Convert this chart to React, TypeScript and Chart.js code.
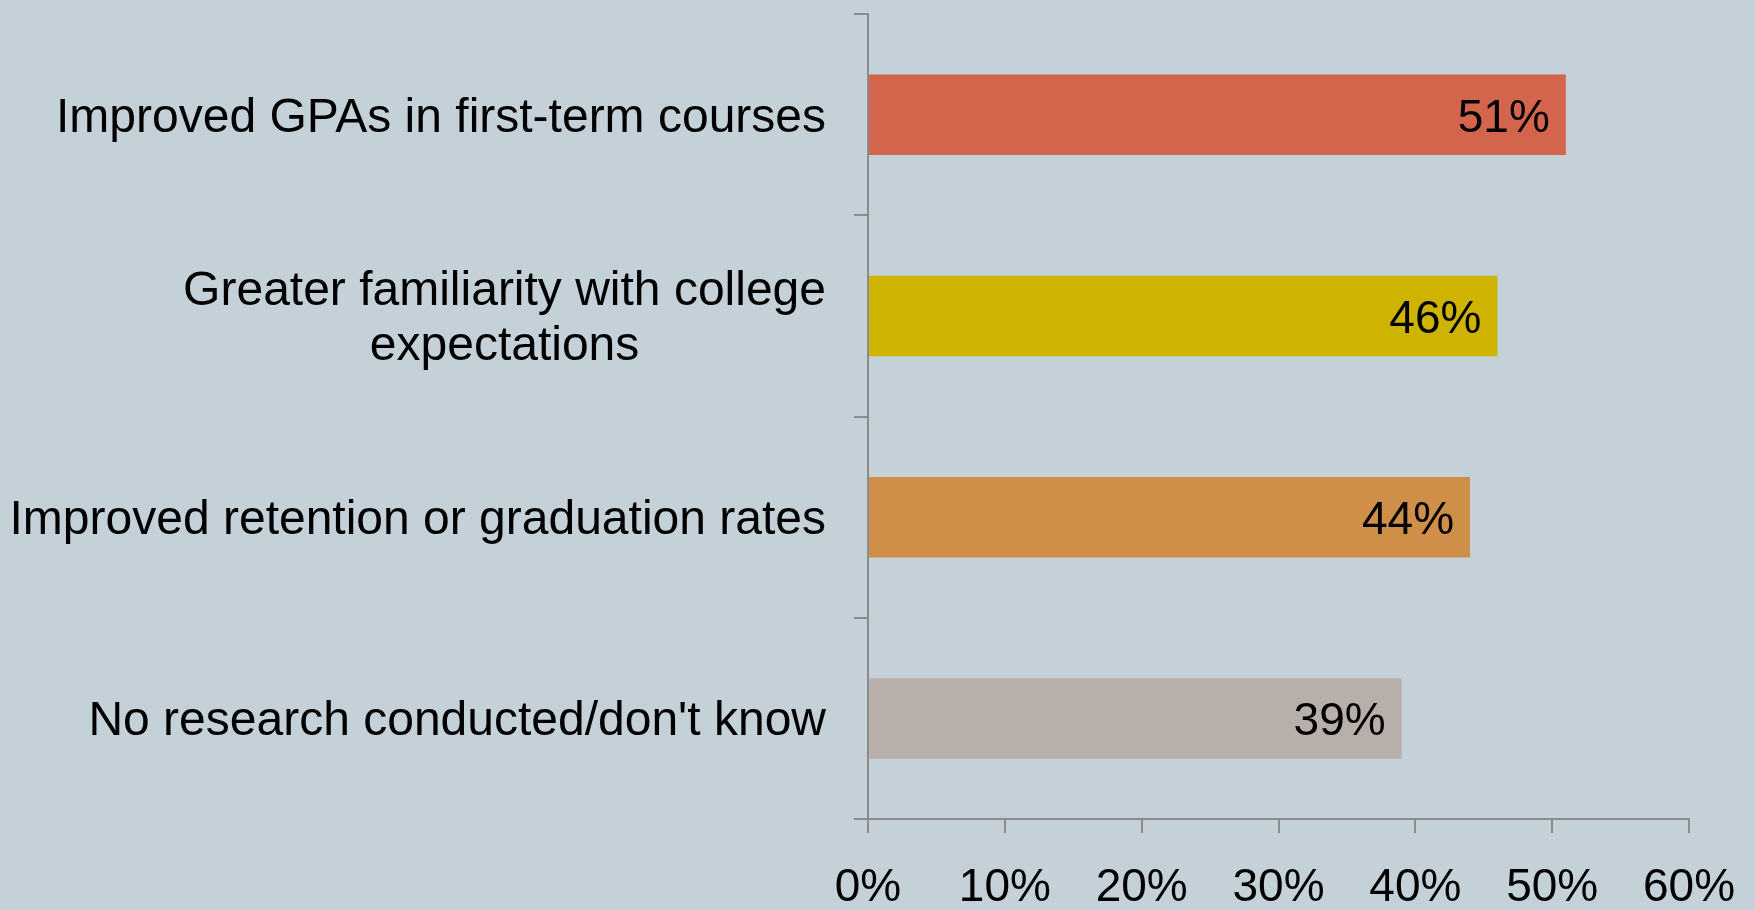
import React, { useEffect, useRef } from "react";
import { Chart, registerables } from "chart.js";

Chart.register(...registerables);

const categories: string[][] = [
  ["Improved GPAs in first-term courses"],
  ["Greater familiarity with college", "expectations"],
  ["Improved retention or graduation rates"],
  ["No research conducted/don't know"],
];
const values: number[] = [51, 46, 44, 39];
const barColors: string[] = ["#D2654B", "#CEB400", "#D08F48", "#B9AFAA"];
const axisMin = 0;
const axisMax = 60;
const axisStep = 10;

const FONT = "'Liberation Sans', Arial, sans-serif";
const GRAY = "#8C8C8C";
const BG = "#C5D1D8";

const labelPlugin = {
  id: "customLabels",
  afterDraw(chart: any) {
    const ctx = chart.ctx;
    const yScale = chart.scales.y;
    ctx.save();
    ctx.fillStyle = "#000";
    // category labels
    ctx.font = `48px ${FONT}`;
    ctx.textBaseline = "alphabetic";
    ctx.textAlign = "center";
    const rightEdge = 826;
    const lineH = 55;
    categories.forEach((lines, i) => {
      const cy = yScale.getPixelForTick(i);
      const widest = Math.max(...lines.map((l) => ctx.measureText(l).width));
      const cx = rightEdge - widest / 2;
      const startBase = cy - ((lines.length - 1) * lineH) / 2 + 17;
      lines.forEach((l, j) => {
        ctx.fillText(l, cx, startBase + j * lineH);
      });
    });
    // value labels
    ctx.font = `46px ${FONT}`;
    ctx.textAlign = "right";
    const meta = chart.getDatasetMeta(0);
    meta.data.forEach((bar: any, i: number) => {
      ctx.fillText(values[i] + "%", bar.x - 16, bar.y + 17);
    });
    ctx.restore();
  },
};

export default function App() {
  const ref = useRef<HTMLCanvasElement | null>(null);
  useEffect(() => {
    if (!ref.current) return;
    const chart = new Chart(ref.current, {
      type: "bar",
      data: {
        labels: categories,
        datasets: [
          {
            data: values,
            backgroundColor: barColors,
            borderWidth: 0,
            categoryPercentage: 1,
            barPercentage: 0.4,
          },
        ],
      },
      options: {
        indexAxis: "y",
        responsive: false,
        maintainAspectRatio: false,
        animation: false,
        layout: { autoPadding: false, padding: { top: 14, right: 66, left: 0, bottom: 0 } },
        plugins: { legend: { display: false }, tooltip: { enabled: false } },
        scales: {
          x: {
            min: axisMin,
            max: axisMax,
            ticks: {
              stepSize: axisStep,
              callback: (v: any) => v + "%",
              font: { size: 46, family: FONT },
              color: "#000",
              padding: 28,
              maxRotation: 0,
            },
            grid: {
              drawOnChartArea: false,
              drawTicks: true,
              tickLength: 14,
              color: GRAY,
              lineWidth: 2,
            },
            border: { display: true, color: GRAY, width: 2 },
            afterFit: (s: any) => {
              s.height = 91;
              s.paddingLeft = 0;
              s.paddingRight = 0;
            },
          },
          y: {
            ticks: { display: false },
            grid: {
              drawOnChartArea: false,
              drawTicks: true,
              tickLength: 14,
              color: GRAY,
              lineWidth: 2,
              offset: true,
            },
            border: { display: true, color: GRAY, width: 2 },
            afterFit: (s: any) => {
              s.width = 868;
              s.paddingTop = 0;
              s.paddingBottom = 0;
            },
          },
        },
      },
      plugins: [labelPlugin],
    } as any);
    return () => chart.destroy();
  }, []);
  return (
    <div
      style={{
        position: "fixed",
        left: 0,
        top: 0,
        width: 1755,
        height: 910,
        background: BG,
      }}
    >
      <canvas ref={ref} width={1755} height={910} style={{ display: "block" }} />
    </div>
  );
}
